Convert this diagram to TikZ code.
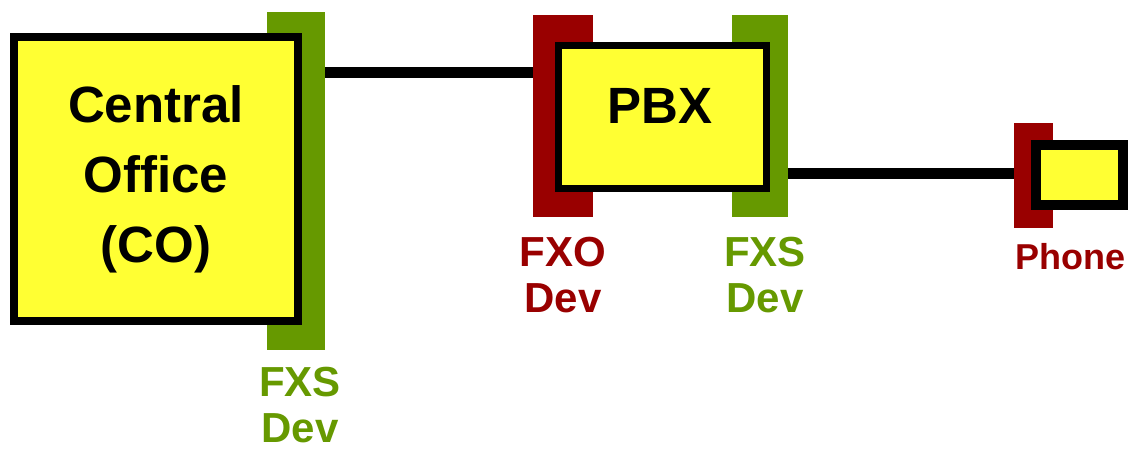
\documentclass[tikz,border=0pt]{standalone}
\usepackage{fontspec}
\setmainfont{Liberation Sans}
\definecolor{boxyellow}{HTML}{FFFF33}
\definecolor{fxsgreen}{HTML}{669900}
\definecolor{fxored}{HTML}{990000}
\begin{document}
\begin{tikzpicture}[x=1pt,y=-1pt,
  bar/.style={draw=none,inner sep=0pt,outer sep=0pt},
  devbox/.style={draw=black,fill=boxyellow,inner sep=0pt,outer sep=0pt,align=center,font=\fontsize{51}{70}\selectfont\bfseries},
  devlabel/.style={inner sep=0pt,align=center,font=\fontsize{42}{46}\selectfont\bfseries},
  wire/.style={line width=11pt,black}]
\useasboundingbox[fill=white] (0,0) rectangle (1133,450);
% bars (behind the boxes)
\node[bar,fill=fxsgreen,minimum width=58pt,minimum height=338pt] (cobar) at (296,181) {};
\node[bar,fill=fxored,minimum width=60pt,minimum height=202pt] (fxobar) at (563,116) {};
\node[bar,fill=fxsgreen,minimum width=56pt,minimum height=202pt] (fxsbar) at (760,116) {};
\node[bar,fill=fxored,minimum width=39pt,minimum height=105pt] (phonebar) at (1033.5,175.5) {};
% boxes
\node[devbox,line width=8pt,minimum width=284pt,minimum height=284pt] (co) at (156,179) {Central\\Office\\(CO)};
\node[devbox,line width=7pt,minimum width=208pt,minimum height=143pt] (pbx) at (662.5,117) {};
\node[inner sep=0pt,font=\fontsize{51}{60}\selectfont\bfseries] (pbxtext) at (660,106) {PBX};
\node[devbox,line width=10pt,minimum width=87pt,minimum height=60pt] (phone) at (1079.5,175) {};
% wires
\coordinate (w1) at (0,72);
\coordinate (w2) at (0,173);
\draw[wire] (cobar.east |- w1) -- (fxobar.west |- w1);
\draw[wire] (fxsbar.east |- w2) -- (phonebar.west |- w2);
% labels
\node[devlabel,text=fxsgreen] (colabel) at (300,405) {FXS\\Dev};
\node[devlabel,text=fxored] (fxolabel) at (563,275) {FXO\\Dev};
\node[devlabel,text=fxsgreen] (fxslabel) at (765,275) {FXS\\Dev};
\node[inner sep=0pt,font=\fontsize{36}{40}\selectfont\bfseries,text=fxored] (phonelabel) at (1070,257) {Phone};
\end{tikzpicture}
\end{document}
